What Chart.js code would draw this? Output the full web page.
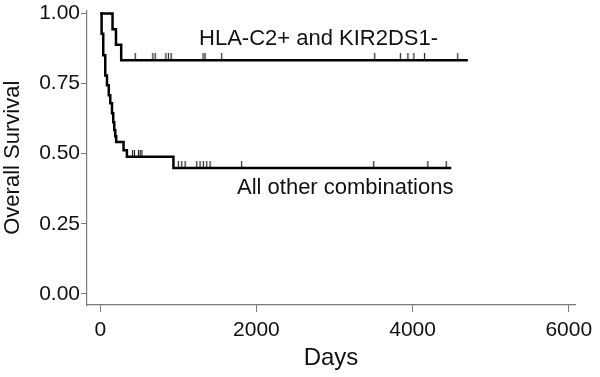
<!DOCTYPE html>
<html>
<head>
<meta charset="utf-8">
<script src="https://cdn.jsdelivr.net/npm/chart.js@4.4.1/dist/chart.umd.min.js"></script>
<style>
  html, body { margin: 0; padding: 0; background: #ffffff; }
  #wrap { width: 600px; height: 377px; }
</style>
</head>
<body>
<div id="wrap"><canvas id="km"></canvas></div>
<script>
// Kaplan-Meier curves (days, survival)
const groupLabels = ["HLA-C2+ and KIR2DS1-", "All other combinations"];

const c2Days = [0, 157, 201, 268, 4707];
const c2Surv = [1.0, 0.944, 0.889, 0.833, 0.833];
const c2Censored = [447, 673, 703, 840, 873, 907, 1316, 1342, 1555, 3515, 3843, 3940, 4017, 4153, 4579];

const otherDays = [0, 17, 38, 64, 86, 109, 128, 150, 166, 179, 192, 204, 298, 341, 937, 4495];
const otherSurv = [1.0, 0.928, 0.851, 0.779, 0.744, 0.708, 0.680, 0.644, 0.612, 0.584, 0.562, 0.542, 0.512, 0.489, 0.449, 0.449];
const otherCensored = [413, 438, 489, 511, 533, 1000, 1044, 1086, 1236, 1278, 1320, 1363, 1406, 1811, 3502, 4195, 4431];

const xTicks = [0, 2000, 4000, 6000];
const yTicks = [0, 0.25, 0.5, 0.75, 1.0];

// survival value at time t on a step curve
function survAt(days, surv, t) {
    let s = surv[0];
    for (let i = 0; i < days.length; i++) {
        if (days[i] <= t) s = surv[i];
    }
    return s;
}

function curvePoints(days, surv) {
    return days.map((d, i) => ({ x: d, y: surv[i] }));
}

function censorPoints(days, surv, cens) {
    return cens.map(t => ({ x: t, y: survAt(days, surv, t) }));
}

// small upward tick used as censoring mark
const tick = document.createElement("canvas");
tick.width = 3;
tick.height = 14;
(function () {
    const c = tick.getContext("2d");
    c.strokeStyle = "#222";
    c.lineWidth = 1.2;
    c.beginPath();
    c.moveTo(1.5, 0);
    c.lineTo(1.5, 7);
    c.stroke();
})();

// curve labels, anchored in data units
const curveLabels = {
    id: "curveLabels",
    afterDatasetsDraw(chart) {
        const ctx = chart.ctx;
        const xs = chart.scales.x;
        const ys = chart.scales.y;
        ctx.save();
        ctx.fillStyle = "#111";
        ctx.font = "22px 'Liberation Sans', Arial, sans-serif";
        ctx.textAlign = "left";
        ctx.textBaseline = "alphabetic";
        ctx.fillText(groupLabels[0], xs.getPixelForValue(1265), ys.getPixelForValue(0.886));
        ctx.fillText(groupLabels[1], xs.getPixelForValue(1751), ys.getPixelForValue(0.356));
        ctx.restore();
    }
};

const axisColor = "#7a7a7a";

new Chart(document.getElementById("km"), {
    type: "line",

    data: {
        datasets: [
            {
                data: curvePoints(c2Days, c2Surv),
                stepped: true,
                borderColor: "#000",
                borderWidth: 2.5,
                pointRadius: 0,
                fill: false,
                clip: false
            },
            {
                data: curvePoints(otherDays, otherSurv),
                stepped: true,
                borderColor: "#000",
                borderWidth: 2.5,
                pointRadius: 0,
                fill: false,
                clip: false
            },
            {
                data: censorPoints(c2Days, c2Surv, c2Censored),
                showLine: false,
                pointStyle: tick,
                pointRadius: 7,
                clip: false
            },
            {
                data: censorPoints(otherDays, otherSurv, otherCensored),
                showLine: false,
                pointStyle: tick,
                pointRadius: 7,
                clip: false
            }
        ]
    },

    options: {
        responsive: true,
        maintainAspectRatio: false,
        animation: false,
        events: [],

        layout: {
            padding: { left: 0, top: 10, right: 25, bottom: 0 }
        },

        plugins: {
            legend: { display: false },
            tooltip: { enabled: false }
        },

        scales: {
            x: {
                type: "linear",
                min: -170,
                max: 6080,
                afterBuildTicks: s => { s.ticks = xTicks.map(v => ({ value: v })); },
                afterFit: s => { s.height = 72; },
                border: { display: true, color: axisColor, width: 1.2 },
                grid: { drawOnChartArea: false, drawTicks: true, tickLength: 7, color: axisColor },
                ticks: {
                    color: "#111",
                    padding: 6,
                    maxRotation: 0,
                    callback: v => String(v),
                    font: { family: "'Liberation Sans', Arial, sans-serif", size: 21 }
                },
                title: {
                    display: true,
                    text: "Days",
                    color: "#111",
                    padding: { top: 0, bottom: 4 },
                    font: { family: "'Liberation Sans', Arial, sans-serif", size: 24 }
                }
            },
            y: {
                type: "linear",
                min: -0.04,
                max: 1.011,
                afterBuildTicks: s => { s.ticks = yTicks.map(v => ({ value: v })); },
                afterFit: s => { s.width = 87; },
                border: { display: true, color: axisColor, width: 1.2 },
                grid: { drawOnChartArea: false, drawTicks: true, tickLength: 6, color: axisColor },
                ticks: {
                    color: "#111",
                    padding: 1,
                    callback: v => Number(v).toFixed(2),
                    font: { family: "'Liberation Sans', Arial, sans-serif", size: 21, lineHeight: 0.9 }
                },
                title: {
                    display: true,
                    text: "Overall Survival",
                    color: "#111",
                    padding: { top: 0, bottom: 0 },
                    font: { family: "'Liberation Sans', Arial, sans-serif", size: 22 }
                }
            }
        }
    },

    plugins: [curveLabels]
});
</script>
</body>
</html>
